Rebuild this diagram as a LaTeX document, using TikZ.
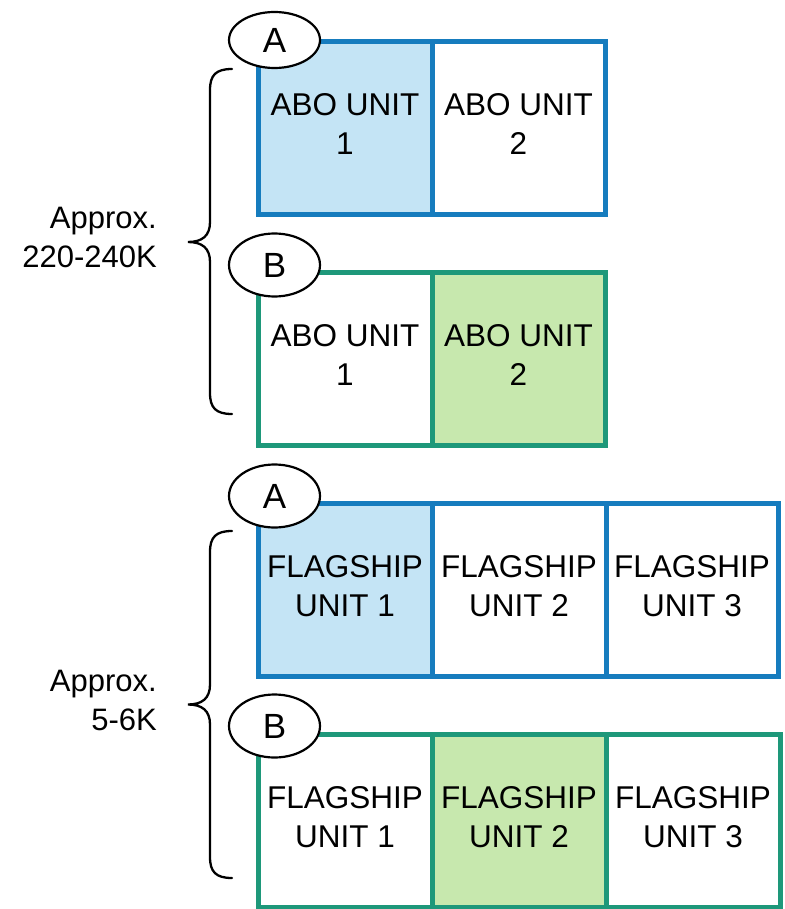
\documentclass[tikz,border=0pt]{standalone}
\usepackage{fontspec}
\setmainfont{Liberation Sans}
\usetikzlibrary{shapes.geometric}
\definecolor{bstroke}{RGB}{22,124,190}
\definecolor{bfill}{RGB}{196,228,245}
\definecolor{gstroke}{RGB}{30,152,122}
\definecolor{gfill}{RGB}{199,232,174}
\tikzset{
  cell/.style={draw, line width=5pt, minimum height=173pt, inner sep=0pt, align=center,
    text depth=8pt, font=\fontsize{31.5}{38.5}\selectfont},
  bluecell/.style={cell, draw=bstroke},
  greencell/.style={cell, draw=gstroke},
  tag/.style={ellipse, draw, fill=white, line width=2.2pt, minimum width=91pt, minimum height=63pt,
    inner sep=0pt, font=\fontsize{35}{35}\selectfont},
  sizelabel/.style={anchor=east, align=right, inner sep=0pt, font=\fontsize{31}{39}\selectfont},
  bracepath/.style={line width=2.3pt, line cap=round}
}
\begin{document}
\begin{tikzpicture}[x=1pt, y=-1pt]
\useasboundingbox (0,0) rectangle (784,909);
% group 1 A
\node[bluecell, fill=bfill, minimum width=174pt] (a1c1) at (345,128) {ABO UNIT\\1};
\node[bluecell, minimum width=173pt] (a1c2) at (518.5,128) {ABO UNIT\\2};
% group 1 B
\node[greencell, minimum width=174pt] (b1c1) at (345,359) {ABO UNIT\\1};
\node[greencell, fill=gfill, minimum width=173pt] (b1c2) at (518.5,359) {ABO UNIT\\2};
% group 2 A
\node[bluecell, fill=bfill, minimum width=174pt] (a2c1) at (345,590) {FLAGSHIP\\UNIT 1};
\node[bluecell, minimum width=174pt] (a2c2) at (519,590) {FLAGSHIP\\UNIT 2};
\node[bluecell, minimum width=172pt] (a2c3) at (692,590) {FLAGSHIP\\UNIT 3};
% group 2 B
\node[greencell, minimum width=174pt] (b2c1) at (345,821) {FLAGSHIP\\UNIT 1};
\node[greencell, fill=gfill, minimum width=174pt] (b2c2) at (519,821) {FLAGSHIP\\UNIT 2};
\node[greencell, minimum width=174pt] (b2c3) at (693,821) {FLAGSHIP\\UNIT 3};
% tags
\node[tag, minimum height=56pt] (ta1) at (274.5,40) {A};
\node[tag] (tb1) at (274.5,265) {B};
\node[tag] (ta2) at (274.5,496) {A};
\node[tag] (tb2) at (274.5,726) {B};
% braces
\coordinate (br1top) at (232,69);
\coordinate (br1bot) at (232,414);
\coordinate (br1tip) at (188,242);
\draw[bracepath] (br1top) .. controls (216,69) and (210,75) .. (210,90) -- (210,222)
  .. controls (210,236) and (202,242) .. (br1tip)
  .. controls (202,242) and (210,248) .. (210,262) -- (210,393)
  .. controls (210,408) and (216,414) .. (br1bot);
\coordinate (br2top) at (232,531);
\coordinate (br2bot) at (232,878);
\coordinate (br2tip) at (188,704.5);
\draw[bracepath] (br2top) .. controls (216,531) and (210,537) .. (210,552) -- (210,684.5)
  .. controls (210,698.5) and (202,704.5) .. (br2tip)
  .. controls (202,704.5) and (210,710.5) .. (210,724.5) -- (210,857)
  .. controls (210,872) and (216,878) .. (br2bot);
% labels
\node[sizelabel] (l1) at (157,237) {Approx.\\220-240K};
\node[sizelabel] (l2) at (157,700) {Approx.\\5-6K};
\end{tikzpicture}
\end{document}
